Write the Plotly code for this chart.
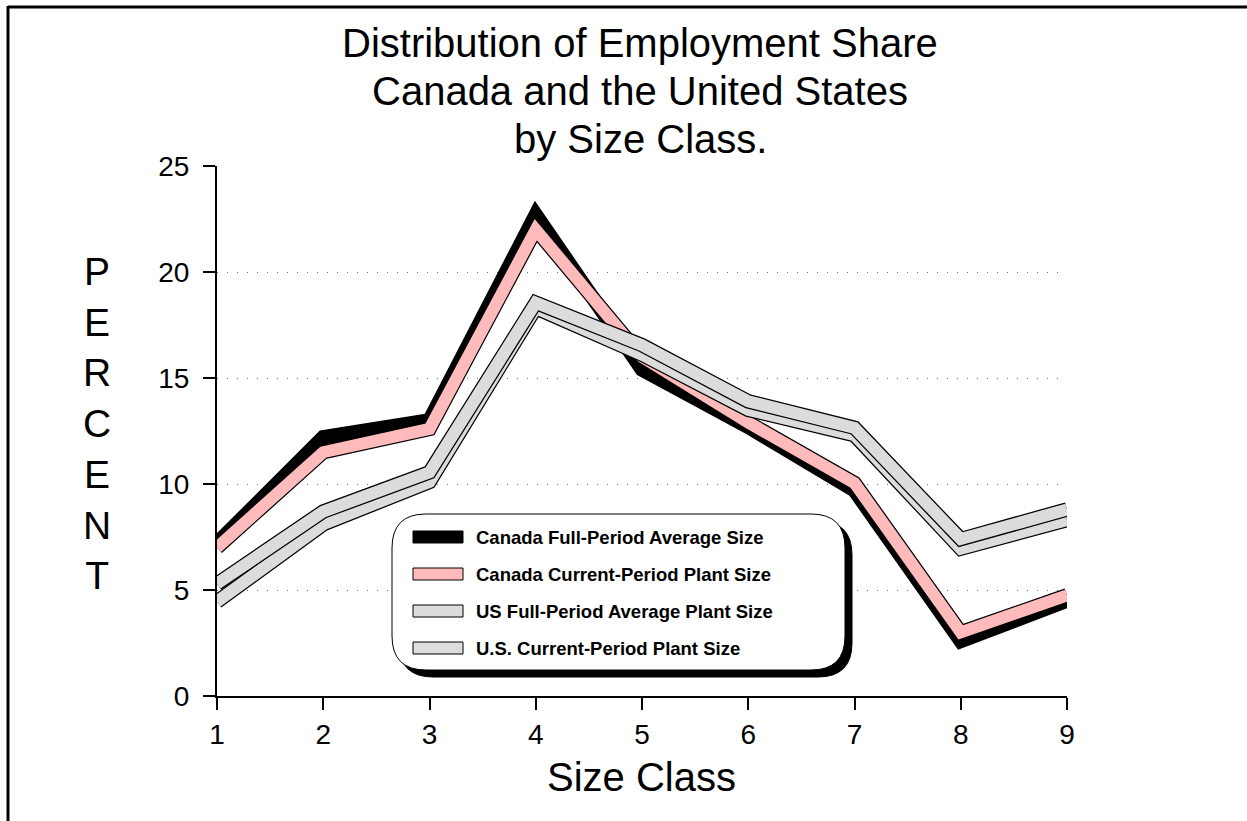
import plotly.graph_objects as go

size_class = [1, 2, 3, 4, 5, 6, 7, 8, 9]
canada_full = [7.2, 12.2, 13.0, 22.7, 15.4, 12.7, 9.7, 2.6, 4.5]
canada_current = [7.0, 11.5, 12.6, 22.0, 16.0, 12.9, 10.05, 3.0, 4.75]
us_full = [5.3, 8.7, 10.55, 18.55, 16.55, 13.9, 12.65, 7.4, 8.8]
us_current = [4.45, 8.1, 10.1, 18.3, 16.1, 13.5, 12.3, 6.95, 8.3]

y_ticks = [0, 5, 10, 15, 20, 25]
title_lines = ['Distribution of Employment Share', 'Canada and the United States', 'by Size Class.']
legend_names = ['Canada Full-Period Average Size', 'Canada Current-Period Plant Size',
                'US Full-Period Average Plant Size', 'U.S. Current-Period Plant Size']
legend_colors = ['#000000', '#FFBBBB', '#DCDCDC', '#DCDCDC']

W, H = 1247, 821
L, R, T, B = 217, 1067, 166, 696
FONT = 'Liberation Sans, Arial, sans-serif'


def px(x):
    return (x - L) / (R - L)


def py(y):
    return (B - y) / (B - T)


fig = go.Figure()

# ribbons, back to front
series = [(canada_full, '#000000'), (canada_current, '#FFBBBB'),
          (us_current, '#DCDCDC'), (us_full, '#DCDCDC')]
for vals, col in series:
    fig.add_trace(go.Scatter(x=size_class, y=vals, mode='lines', showlegend=False,
                             line=dict(color='#000000', width=14.5), hoverinfo='skip'))
    fig.add_trace(go.Scatter(x=size_class, y=vals, mode='lines', showlegend=False,
                             line=dict(color=col, width=12)))

shapes = []
# page frame (top and left edges)
shapes.append(dict(type='line', xref='paper', yref='paper', x0=px(8), x1=px(1260), y0=py(7), y1=py(7),
                   line=dict(color='black', width=3)))
shapes.append(dict(type='line', xref='paper', yref='paper', x0=px(8), x1=px(8), y0=py(6), y1=py(830),
                   line=dict(color='black', width=3)))


def rounded(x0, y0, x1, y1, r):
    p = f'M {px(x0 + r)} {py(y0)} L {px(x1 - r)} {py(y0)} Q {px(x1)} {py(y0)} {px(x1)} {py(y0 + r)} '
    p += f'L {px(x1)} {py(y1 - r)} Q {px(x1)} {py(y1)} {px(x1 - r)} {py(y1)} '
    p += f'L {px(x0 + r)} {py(y1)} Q {px(x0)} {py(y1)} {px(x0)} {py(y1 - r)} '
    p += f'L {px(x0)} {py(y0 + r)} Q {px(x0)} {py(y0)} {px(x0 + r)} {py(y0)} Z'
    return p


# legend box with shadow
shapes.append(dict(type='path', xref='paper', yref='paper', path=rounded(399, 521, 852, 677, 34),
                   fillcolor='black', line=dict(color='black', width=1), layer='above'))
shapes.append(dict(type='path', xref='paper', yref='paper', path=rounded(392, 514, 845, 670, 34),
                   fillcolor='white', line=dict(color='black', width=1), layer='above'))

annotations = []
row_y = [537, 574, 611, 648]
for name, col, yc in zip(legend_names, legend_colors, row_y):
    shapes.append(dict(type='rect', xref='paper', yref='paper', x0=px(413), x1=px(463),
                       y0=py(yc - 6), y1=py(yc + 6), fillcolor=col,
                       line=dict(color='black', width=1), layer='above'))
    annotations.append(dict(xref='paper', yref='paper', x=px(474), y=py(yc), xanchor='left',
                            yanchor='middle', text=f'<b>{name}</b>', showarrow=False,
                            font=dict(family=FONT, size=18.5, color='black')))

for line, yc in zip(title_lines, [43, 91, 139]):
    annotations.append(dict(xref='paper', yref='paper', x=px(640), y=py(yc), xanchor='center',
                            yanchor='middle', text=line, showarrow=False,
                            font=dict(family=FONT, size=40, color='black')))

annotations.append(dict(xref='paper', yref='paper', x=px(97), y=py(423), xanchor='center',
                        yanchor='middle', text='<br>'.join('PERCENT'), showarrow=False,
                        font=dict(family=FONT, size=39, color='black')))
annotations.append(dict(xref='paper', yref='paper', x=px(641), y=py(777), xanchor='center',
                        yanchor='middle', text='Size Class', showarrow=False,
                        font=dict(family=FONT, size=40, color='black')))

fig.update_layout(
    width=W, height=H,
    margin=dict(l=L, r=W - R, t=T, b=H - B),
    paper_bgcolor='white', plot_bgcolor='white',
    xaxis=dict(range=[1, 9], tickvals=size_class, showline=True, linecolor='black', linewidth=2,
               ticks='outside', ticklen=12, tickwidth=2, tickcolor='black', showgrid=False,
               zeroline=False, tickfont=dict(family=FONT, size=28, color='black')),
    yaxis=dict(range=[0, 25], tickvals=y_ticks, showline=True, linecolor='black', linewidth=2,
               ticks='outside', ticklen=12, tickwidth=2, tickcolor='black', showgrid=True,
               gridcolor='#707070', gridwidth=1, griddash='1px,9px', zeroline=False,
               ticklabelstandoff=8, tickfont=dict(family=FONT, size=28, color='black')),
    shapes=shapes,
    annotations=annotations,
    showlegend=False,
)

fig.write_html('out.html', config={'displayModeBar': False},
               post_script="document.body.style.margin='0';")
